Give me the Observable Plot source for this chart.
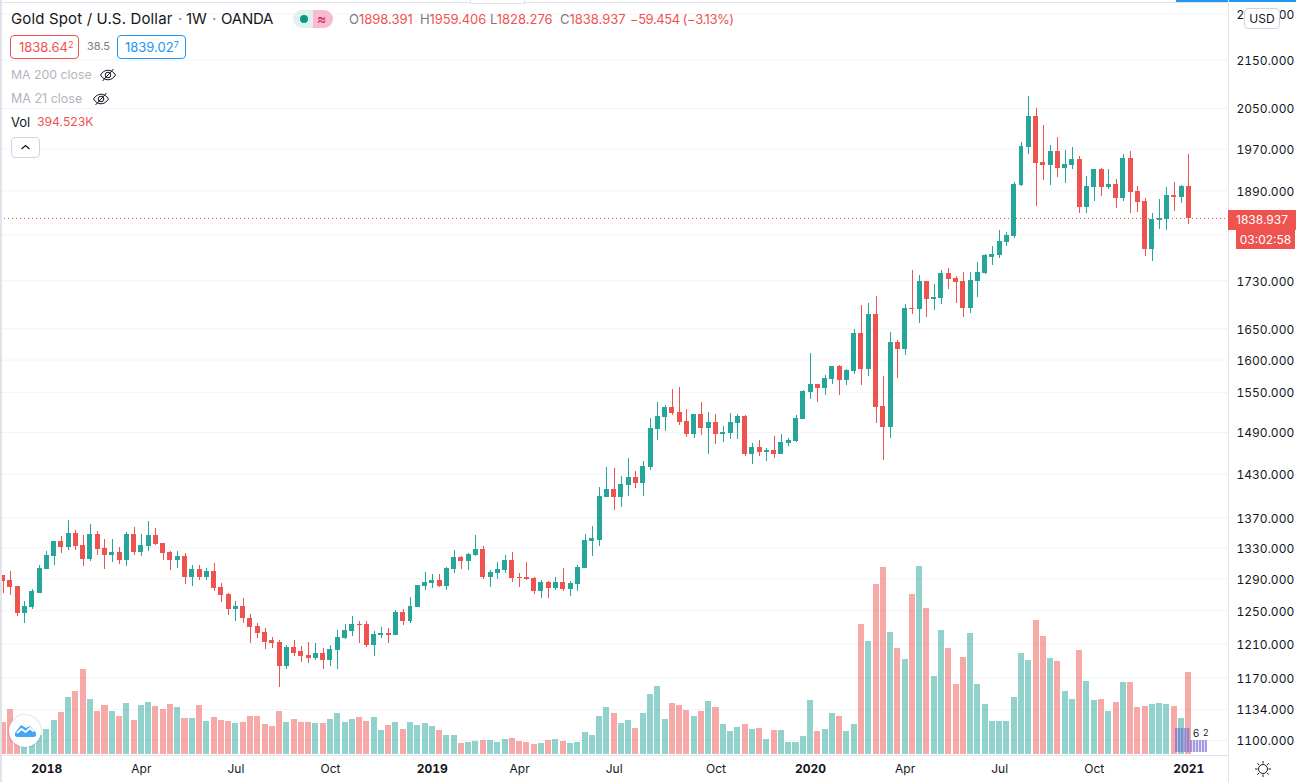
<!DOCTYPE html>
<html>
<head>
<meta charset="utf-8">
<script src="https://cdn.jsdelivr.net/npm/d3@7"></script>
<script src="https://cdn.jsdelivr.net/npm/@observablehq/plot@0.6"></script>
<style>
html,body{margin:0;padding:0;background:#fff;overflow:hidden}
#stage{position:relative;width:1298px;height:782px;overflow:hidden;font-family:Inter,"Liberation Sans",sans-serif;color:#131722}
#stage svg.plot-layer{position:absolute;left:0;top:0}
.t{position:absolute;white-space:nowrap;line-height:1}
.box{position:absolute;box-sizing:border-box;background:#fff;border-radius:4px}
.red{color:#ef5350}.grey{color:#787b86}
</style>
</head>
<body>
<div id="stage"></div>
<script>
const opens=[1294,1288,1280,1247,1254,1272,1302,1318,1338,1330,1349,1333,1315,1347,1329,1320,1324,1313,1347,1324,1332,1346,1335,1324,1313,1318,1291,1302,1291,1299,1279,1270,1251,1255,1241,1231,1223,1214,1211,1183,1205,1201,1196,1192,1198,1190,1202,1216,1225,1233,1233,1208,1220,1222,1220,1248,1237,1254,1280,1284,1288,1280,1302,1317,1312,1320,1328,1291,1297,1300,1313,1291,1291,1290,1274,1285,1278,1285,1276,1283,1303,1338,1340,1397,1408,1397,1414,1425,1417,1439,1494,1512,1527,1519,1506,1487,1516,1496,1505,1487,1488,1503,1513,1458,1468,1461,1464,1458,1474,1477,1509,1550,1562,1556,1570,1590,1568,1582,1642,1585,1673,1528,1497,1628,1617,1683,1682,1729,1698,1700,1742,1734,1729,1683,1729,1742,1770,1773,1796,1807,1900,1973,2034,1944,1938,1965,1932,1938,1950,1859,1896,1931,1896,1902,1876,1952,1889,1871,1784,1836,1838,1882,1878,1898.391];
const highs=[1294,1299,1280,1261,1276,1307,1325,1338,1345,1366,1353,1346,1361,1351,1341,1341,1330,1350,1357,1347,1365,1355,1335,1325,1325,1322,1307,1307,1303,1309,1284,1272,1261,1265,1245,1234,1228,1217,1214,1208,1214,1207,1212,1210,1204,1208,1226,1233,1243,1237,1237,1225,1229,1228,1250,1251,1266,1281,1298,1296,1295,1304,1326,1318,1322,1346,1332,1300,1311,1320,1324,1297,1311,1291,1288,1286,1291,1303,1286,1307,1347,1358,1411,1439,1438,1427,1452,1434,1448,1510,1534,1530,1554,1557,1524,1516,1534,1519,1516,1499,1518,1516,1515,1474,1478,1467,1484,1487,1481,1515,1553,1610,1562,1576,1590,1591,1585,1649,1688,1692,1703,1574,1644,1631,1690,1748,1739,1729,1723,1748,1751,1737,1744,1744,1761,1775,1789,1818,1814,1906,1983,2075,2050,2016,1977,1992,1967,1973,1955,1917,1931,1932,1931,1912,1959,1965,1898,1876,1849,1874,1896,1906,1900,1959.406];
const lows=[1272,1269,1243,1234,1251,1271,1302,1307,1322,1326,1326,1306,1312,1320,1302,1311,1308,1306,1320,1318,1325,1333,1313,1300,1303,1283,1280,1288,1288,1274,1260,1244,1237,1234,1210,1216,1203,1204,1159,1180,1195,1188,1187,1190,1180,1183,1180,1215,1219,1210,1205,1195,1216,1210,1220,1232,1234,1254,1275,1278,1279,1275,1297,1302,1300,1318,1289,1279,1289,1297,1285,1279,1288,1270,1265,1265,1275,1274,1268,1274,1303,1318,1332,1397,1380,1384,1399,1410,1399,1435,1478,1491,1515,1500,1482,1481,1485,1458,1472,1475,1480,1480,1455,1444,1455,1448,1452,1458,1470,1475,1509,1539,1534,1545,1562,1545,1560,1577,1560,1574,1503,1449,1481,1571,1607,1673,1659,1668,1680,1690,1715,1692,1668,1675,1702,1741,1757,1768,1789,1803,1898,1959,1861,1910,1900,1915,1904,1931,1848,1848,1871,1880,1893,1858,1871,1848,1850,1772,1763,1820,1818,1852,1866,1828.276];
const closes=[1286,1279,1247,1255,1274,1303,1320,1338,1330,1349,1332,1315,1347,1328,1320,1324,1313,1347,1324,1333,1346,1334,1322,1313,1318,1291,1302,1291,1299,1278,1269,1251,1255,1240,1229,1222,1212,1210,1183,1205,1199,1195,1192,1198,1190,1203,1217,1226,1233,1232,1208,1221,1222,1220,1248,1237,1255,1281,1285,1288,1280,1303,1317,1312,1321,1328,1291,1298,1302,1313,1290,1290,1289,1274,1285,1278,1285,1276,1284,1304,1339,1342,1399,1408,1397,1415,1425,1417,1441,1496,1513,1527,1518,1505,1487,1516,1496,1505,1487,1490,1505,1513,1458,1468,1461,1464,1458,1475,1478,1510,1551,1562,1556,1571,1590,1568,1584,1642,1585,1673,1527,1497,1628,1617,1683,1682,1729,1698,1702,1742,1732,1727,1683,1730,1744,1773,1775,1798,1809,1902,1975,2034,1942,1938,1965,1932,1940,1950,1859,1898,1931,1896,1902,1876,1952,1887,1869,1784,1838,1840,1882,1878,1898,1838.937];
const volumesK=[155,218,149,117,95,93,122,165,203,275,304,410,266,208,237,208,184,246,165,237,251,232,218,242,227,174,174,237,160,179,165,160,150,155,184,184,146,136,208,155,170,155,155,150,150,170,198,155,170,179,160,179,117,141,155,122,155,141,150,136,117,93,93,54,59,64,69,69,59,74,78,64,59,50,54,69,74,64,54,59,107,93,184,227,198,150,165,126,198,290,328,170,246,237,213,184,208,256,227,146,112,131,146,122,126,74,117,117,59,59,88,261,112,122,198,184,112,146,626,544,818,899,587,510,458,770,904,702,376,597,510,338,467,582,338,242,160,160,160,275,486,453,645,568,462,448,304,266,501,352,261,266,208,251,347,347,227,232,242,246,242,232,174,394.523];
const firstWeek=new Date(Date.UTC(2017,10,20));
const yLabelled=[1100,1134,1170,1210,1250,1290,1330,1370,1430,1490,1550,1600,1650,1730,1890,1970,2050,2150,2250];
const yGridOnly=[1810];
const yearTicks=[new Date(Date.UTC(2018,0,1)),new Date(Date.UTC(2019,0,7)),new Date(Date.UTC(2020,0,6)),new Date(Date.UTC(2021,0,4))];
const monthTicks=[[2018,3,2],[2018,6,2],[2018,9,1],[2019,3,1],[2019,6,1],[2019,9,7],[2020,3,6],[2020,6,6],[2020,9,5]].map(([y,m,d])=>new Date(Date.UTC(y,m,d)));
const lastPrice=1838.937;

const UP="#26a69a",DOWN="#ef5350",GRID="#f0f3fa";
const rows=opens.map((o,i)=>({date:d3.utcDay.offset(firstWeek,7*i),open:o,high:highs[i],low:lows[i],close:closes[i],vol:volumesK[i],color:closes[i]>=o?UP:DOWN}));
const shift=(d,days)=>new Date(+d+days*864e5);
const xScale={type:"utc",domain:[new Date(Date.UTC(2018,0,1)),new Date(Date.UTC(2021,0,4))],range:[46.3,1188.3]};
const FONT='Inter,"Liberation Sans",sans-serif';

const price=Plot.plot({
  width:1298,height:782,marginLeft:0,marginTop:0,marginRight:70,marginBottom:27,
  style:{background:"transparent",fontFamily:FONT,fontSize:"12px",color:"#131722"},
  x:xScale,
  y:{type:"log",domain:[1100,2050],range:[740,108]},
  color:{type:"identity"},
  marks:[
    Plot.gridX([...yearTicks,...monthTicks],{x:d=>d,stroke:GRID,strokeOpacity:1,y1:0,y2:755}),
    Plot.gridY([...yLabelled,...yGridOnly],{y:d=>d,stroke:GRID,strokeOpacity:1}),
    Plot.axisY({anchor:"right",ticks:yLabelled,tickFormat:d3.format(".3f"),tickSize:0,tickPadding:8,label:null,fontSize:12,dy:1}),
    Plot.axisX({ticks:monthTicks,tickFormat:d3.utcFormat("%b"),tickSize:0,tickPadding:9,label:null,anchor:"bottom",fontSize:12}),
    Plot.axisX({ticks:yearTicks,tickFormat:d3.utcFormat("%Y"),tickSize:0,tickPadding:9,label:null,anchor:"bottom",fontSize:12,fontWeight:"bold"}),
    Plot.ruleY([lastPrice],{stroke:DOWN,strokeDasharray:"1,3",strokeWidth:1,shapeRendering:"crispEdges"}),
    Plot.ruleX(rows,{x:"date",y1:"low",y2:"high",stroke:"color",strokeWidth:1,shapeRendering:"crispEdges"}),
    Plot.rect(rows,{x1:d=>shift(d.date,-2.4),x2:d=>shift(d.date,2.4),y1:"open",y2:"close",fill:"color",shapeRendering:"crispEdges"})
  ]
});
const volume=Plot.plot({
  width:1298,height:782,marginLeft:0,marginTop:0,marginRight:70,marginBottom:27,
  style:{background:"transparent"},
  x:{...xScale,axis:null},
  y:{type:"linear",domain:[0,1000],range:[754.3,545.7],axis:null},
  color:{type:"identity"},
  marks:[
    Plot.rectY(rows,{x1:d=>shift(d.date,-2.9),x2:d=>shift(d.date,2.9),y:"vol",fill:"color",fillOpacity:0.5,shapeRendering:"crispEdges"})
  ]
});
price.classList.add("plot-layer");volume.classList.add("plot-layer");
const stage=document.getElementById("stage");
stage.append(price,volume);

const eye=`<svg width="18" height="18" viewBox="0 0 18 18" fill="none" stroke="#131722" stroke-width="1"><path d="M1.5 9c2-3.2 4.6-4.8 7.5-4.8S14.5 5.8 16.5 9c-2 3.2-4.6 4.8-7.5 4.8S3.5 12.2 1.5 9z"/><circle cx="9" cy="9" r="2.8"/><path d="M3.5 15L14.5 3"/></svg>`;
const overlay=`
<div style="position:absolute;left:0;top:0;width:2px;height:782px;background:#e0e3eb"></div>
<div style="position:absolute;left:0;top:2px;width:1228px;height:1px;background:#e0e3eb"></div>
<div style="position:absolute;left:470px;top:0;width:55px;height:4px;background:#fff;border:1px solid #e0e3eb;border-top:0;box-sizing:border-box"></div>
<div style="position:absolute;left:1176px;top:0;width:120px;height:2px;background:#2196f3"></div>
<div style="position:absolute;left:0;top:754.5px;width:1228px;height:1px;background:#e0e3eb"></div>
<div style="position:absolute;left:1228px;top:0;width:1px;height:782px;background:#e0e3eb"></div>
<div class="t" style="left:11px;top:11px;font-size:15px;letter-spacing:.15px">Gold Spot / U.S. Dollar</div>
<div class="t" style="left:178px;top:11px;font-size:15px;color:#787b86">·</div>
<div class="t" style="left:186px;top:11px;font-size:15px">1W</div>
<div class="t" style="left:212px;top:11px;font-size:15px;color:#787b86">·</div>
<div class="t" style="left:221px;top:11px;font-size:15px;letter-spacing:-.2px">OANDA</div>
<div style="position:absolute;left:293px;top:10px;width:20px;height:18px;background:#e0f2ef;border-radius:9px 0 0 9px"></div>
<div style="position:absolute;left:300px;top:15px;width:8px;height:8px;border-radius:4px;background:#089981"></div>
<div style="position:absolute;left:313px;top:10px;width:20px;height:18px;background:#f8bbd0;border-radius:0 9px 9px 0"></div>
<div class="t" style="left:317px;top:12px;font-size:14px;color:#c2185b">≈</div>
<div class="t grey" style="left:349px;top:13px;font-size:13px">O<span class="red">1898.391</span></div>
<div class="t grey" style="left:420px;top:13px;font-size:13px;letter-spacing:-.1px">H<span class="red">1959.406</span></div>
<div class="t grey" style="left:490px;top:13px;font-size:13px">L<span class="red">1828.276</span></div>
<div class="t grey" style="left:560px;top:13px;font-size:13px">C<span class="red">1838.937</span></div>
<div class="t red" style="left:630px;top:13px;font-size:13px;letter-spacing:-.44px">−59.454 (−3.13%)</div>
<div class="box" style="left:10px;top:35px;width:69px;height:24px;border:1px solid #ef5350"></div>
<div class="t red" style="left:19px;top:41px;font-size:13px">1838.64<sup style="font-size:9px;line-height:0;vertical-align:4px">2</sup></div>
<div class="t grey" style="left:87px;top:41px;font-size:11px">38.5</div>
<div class="box" style="left:117px;top:35px;width:69px;height:24px;border:1px solid #2196f3"></div>
<div class="t" style="left:125px;top:41px;font-size:13px;color:#2196f3">1839.02<sup style="font-size:9px;line-height:0;vertical-align:4px">7</sup></div>
<div class="t" style="left:11px;top:69px;font-size:12.3px;color:#b2b5be">MA 200 close</div>
<div style="position:absolute;left:99px;top:66px;height:18px">${eye}</div>
<div class="t" style="left:11px;top:93px;font-size:12.5px;color:#b2b5be">MA 21 close</div>
<div style="position:absolute;left:92px;top:90px;height:18px">${eye}</div>
<div class="t" style="left:11px;top:116px;font-size:13px">Vol</div>
<div class="t red" style="left:37px;top:116px;font-size:12.2px">394.523K</div>
<div class="box" style="left:11px;top:137px;width:29px;height:21px;border:1px solid #d1d4dc"><svg width="27" height="19" viewBox="0 0 27 19" fill="none" stroke="#131722" stroke-width="1.3"><path d="M9.5 11l4-3.5 4 3.5"/></svg></div>
<div class="box" style="left:1244px;top:8px;width:36px;height:21px;border:1px solid #d1d4dc;text-align:center;font-size:12px;line-height:19px">USD</div>
<div style="position:absolute;left:1228px;top:210px;width:68px;height:20px;background:#ef5350;color:#fff;font-size:12px;line-height:20px;text-align:center">1838.937</div>
<div style="position:absolute;left:1236px;top:230px;width:59px;height:19px;background:#ef5350;color:#fff;font-size:12px;line-height:19px;text-align:center">03:02:58</div>
<div style="position:absolute;left:1175px;top:728px;width:15px;height:24px;opacity:.6;background:repeating-linear-gradient(90deg,#5b6bc8 0 2px,#a58fe0 2px 3px)"></div>
<div style="position:absolute;left:1190px;top:740px;width:17px;height:12px;opacity:.7;background:repeating-linear-gradient(90deg,#7e6fd8 0 2px,#d8d4f5 2px 3px)"></div>
<div style="position:absolute;left:1191px;top:726px;width:12px;height:13px;border-radius:6px;background:#fff"></div>
<div class="t" style="left:1193px;top:728px;font-size:10px">6</div>
<div class="t" style="left:1203px;top:728px;font-size:9px">2</div>
<div style="position:absolute;left:9px;top:715px;width:32px;height:32px;border-radius:16px;background:#fff;box-shadow:0 0 2px rgba(0,0,0,.3)">
<svg width="32" height="32" viewBox="0 0 32 32"><path d="M6 18l6-8 5 3 4-2 6 7v3l-2 1H8l-2-1z" fill="#42a5f5"/><path d="M8 18l4.500-4 4 3 4.500-4 3.500 3.500" fill="none" stroke="#fff" stroke-width="1.8"/></svg></div>
<svg style="position:absolute;left:1254px;top:760px" width="18" height="18" viewBox="0 0 18 18" fill="none" stroke="#131722" stroke-width="1"><circle cx="9" cy="9" r="4.5"/><path d="M9 1v2.5M9 14.5V17M1 9h2.5M14.5 9H17M3.3 3.3l1.800 1.800M12.900 12.900l1.800 1.800M3.300 14.700l1.800-1.800M12.900 5.100l1.800-1.800"/></svg>
`;
const ov=document.createElement("div");
ov.innerHTML=overlay;
stage.append(ov);
</script>
</body>
</html>
